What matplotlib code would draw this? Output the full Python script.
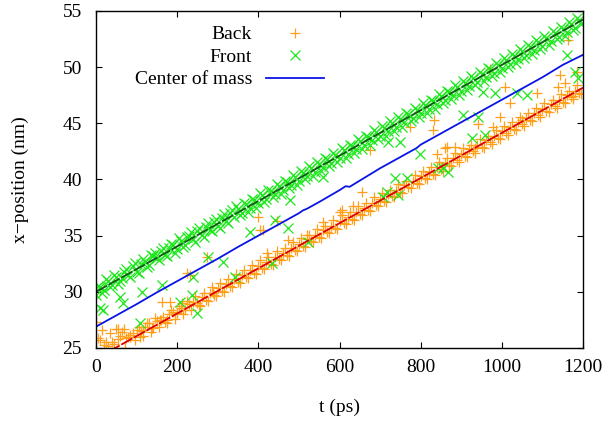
import matplotlib
matplotlib.use('Agg')
import matplotlib.pyplot as plt

plt.rcParams['font.family'] = ['Liberation Serif', 'DejaVu Serif']

# time grid of the regular samples (ps)
t_grid = [0, 10, 20, 30, 40, 50, 60, 70, 80, 90, 100, 110, 120, 130, 140, 150, 160, 170, 180, 190,
          200, 210, 220, 230, 240, 250, 260, 270, 280, 290, 300, 310, 320, 330, 340, 350, 360, 370, 380, 390,
          400, 410, 420, 430, 440, 450, 460, 470, 480, 490, 500, 510, 520, 530, 540, 550, 560, 570, 580, 590,
          600, 610, 620, 630, 640, 650, 660, 670, 680, 690, 700, 710, 720, 730, 740, 750, 760, 770, 780, 790,
          800, 810, 820, 830, 840, 850, 860, 870, 880, 890, 900, 910, 920, 930, 940, 950, 960, 970, 980, 990,
          1000, 1010, 1020, 1030, 1040, 1050, 1060, 1070, 1080, 1090, 1100, 1110, 1120, 1130, 1140, 1150, 1160, 1170, 1180, 1190]
t_mid = [5, 15, 25, 35, 45, 55, 65, 75, 85, 95, 105, 115, 125, 135, 145, 155, 165, 175, 185, 195,
         205, 215, 225, 235, 245, 255, 265, 275, 285, 295, 305, 315, 325, 335, 345, 355, 365, 375, 385, 395,
         405, 415, 425, 435, 445, 455, 465, 475, 485, 495, 505, 515, 525, 535, 545, 555, 565, 575, 585, 595,
         605, 615, 625, 635, 645, 655, 665, 675, 685, 695, 705, 715, 725, 735, 745, 755, 765, 775, 785, 795,
         805, 815, 825, 835, 845, 855, 865, 875, 885, 895, 905, 915, 925, 935, 945, 955, 965, 975, 985, 995,
         1005, 1015, 1025, 1035, 1045, 1055, 1065, 1075, 1085, 1095, 1105, 1115, 1125, 1135, 1145, 1155, 1165, 1175, 1185, 1195]

front_v = [29.7, 30.4, 30.2, 31.0, 30.6, 31.3, 31.0, 31.8, 31.5, 32.3, 31.8, 32.5, 32.7, 32.4, 33.2, 33.0, 33.6, 33.3, 33.9, 34.2,
           33.8, 34.5, 34.2, 35.0, 34.7, 35.4, 35.1, 35.8, 35.5, 36.2, 35.9, 36.6, 36.3, 37.0, 36.7, 37.4, 37.0, 37.8, 37.5, 38.2,
           37.9, 38.6, 38.3, 39.0, 38.7, 39.4, 39.1, 39.8, 39.5, 40.2, 39.9, 40.6, 40.3, 41.0, 40.7, 41.4, 41.1, 41.8, 41.5, 42.2,
           41.9, 42.6, 42.3, 43.0, 42.7, 43.4, 43.1, 43.8, 43.5, 44.2, 43.9, 44.6, 44.3, 45.0, 44.7, 45.4, 45.1, 45.8, 45.5, 46.2,
           45.9, 46.6, 46.3, 47.0, 46.7, 47.4, 47.1, 47.8, 47.5, 48.2, 47.9, 48.6, 48.3, 49.0, 48.7, 49.4, 49.1, 49.8, 49.5, 50.2,
           49.9, 50.6, 50.3, 51.0, 50.7, 51.4, 51.1, 51.8, 51.5, 52.2, 51.9, 52.6, 52.3, 53.0, 52.7, 53.4, 53.1, 53.8, 53.5, 54.2]
front_mid = [30.5, 29.9, 31.1, 30.4, 31.5, 30.7, 31.2, 32.0, 31.3, 32.6, 31.7, 32.9, 32.2, 33.3, 33.5, 32.8, 33.9, 33.2, 34.3, 33.5,
             34.8, 34.0, 34.9, 35.3, 34.4, 35.7, 34.9, 36.1, 35.4, 36.5, 35.7, 36.9, 36.1, 37.3, 37.6, 36.8, 37.9, 37.1, 38.3, 37.5,
             38.8, 38.0, 39.1, 38.4, 39.6, 38.7, 39.9, 39.2, 40.4, 39.5, 40.8, 40.0, 41.2, 40.3, 41.6, 40.8, 41.9, 41.2, 42.4, 41.6,
             42.8, 41.9, 43.1, 42.4, 43.6, 42.7, 43.9, 43.1, 44.4, 43.6, 44.8, 43.9, 45.2, 44.3, 45.6, 44.7, 45.9, 45.2, 46.4, 45.6,
             46.8, 45.9, 47.1, 46.3, 47.6, 46.8, 47.9, 47.2, 48.4, 47.5, 48.8, 48.0, 49.2, 48.4, 49.6, 48.8, 49.9, 49.2, 50.4, 49.6,
             50.8, 50.0, 51.2, 50.4, 51.6, 50.8, 52.0, 51.2, 52.4, 51.6, 52.8, 52.0, 53.2, 52.5, 53.6, 52.8, 54.0, 53.3, 54.4, 53.8]

back_v = [27.3, 25.7, 25.3, 25.2, 25.5, 26.7, 26.1, 26.7, 26.0, 26.3, 26.6, 26.5, 26.9, 27.2, 26.8, 27.4, 27.5, 27.3, 28.0, 28.2,
          28.1, 28.6, 28.4, 28.9, 29.1, 29.0, 29.5, 29.3, 29.9, 29.7, 30.3, 30.1, 30.7, 30.5, 31.1, 30.9, 31.5, 31.3, 31.9, 31.7,
          32.3, 32.1, 32.7, 32.5, 33.1, 32.9, 33.5, 33.3, 33.9, 33.7, 34.3, 34.1, 34.7, 34.5, 35.1, 34.9, 35.5, 35.3, 35.9, 35.7,
          36.3, 36.1, 36.7, 36.5, 37.1, 36.9, 37.5, 37.3, 37.9, 37.7, 38.3, 38.1, 38.7, 38.5, 39.1, 38.9, 39.5, 39.3, 39.9, 39.7,
          40.3, 40.1, 40.7, 40.5, 41.1, 40.9, 41.5, 41.3, 41.9, 41.7, 42.3, 42.1, 42.7, 42.5, 43.1, 42.9, 43.5, 43.3, 43.9, 43.7,
          44.3, 44.1, 44.7, 44.5, 45.1, 44.9, 45.5, 45.3, 45.9, 45.7, 46.3, 46.1, 46.7, 46.5, 47.1, 46.9, 47.5, 47.3, 47.9, 47.7]
back_mid = [25.9, 26.6, 25.5, 26.3, 25.4, 25.8, 26.4, 25.9, 26.2, 25.7, 26.9, 26.1, 27.2, 26.4, 27.7, 26.9, 27.8, 27.2, 28.4, 27.6,
            28.7, 28.0, 29.2, 28.4, 29.6, 28.8, 29.9, 29.2, 30.4, 29.6, 30.8, 30.0, 31.1, 30.4, 31.6, 30.8, 31.9, 31.2, 32.4, 31.6,
            32.8, 32.0, 33.1, 32.4, 33.6, 32.8, 33.9, 33.2, 34.4, 33.6, 34.8, 34.0, 35.1, 34.4, 35.6, 34.8, 35.9, 35.2, 36.4, 35.6,
            36.8, 36.0, 37.1, 36.4, 37.6, 36.8, 37.9, 37.2, 38.4, 37.6, 38.8, 38.0, 39.1, 38.4, 39.6, 38.8, 39.9, 39.2, 40.4, 39.6,
            40.8, 40.0, 41.1, 40.4, 41.6, 40.8, 41.9, 41.2, 42.4, 41.6, 42.8, 42.0, 43.1, 42.4, 43.6, 42.8, 43.9, 43.2, 44.4, 43.6,
            44.8, 44.0, 45.1, 44.4, 45.6, 44.8, 45.9, 45.2, 46.4, 45.6, 46.8, 46.0, 47.1, 46.4, 47.6, 46.8, 47.9, 47.2, 48.4, 47.6]

# scattered samples away from the trend
front_out_t = [17, 10, 59, 67, 108, 113, 163, 207, 236, 249, 239, 276, 313, 342, 379, 434, 441, 473, 478, 522, 559,
               707, 717, 737, 744, 766, 798, 719, 749, 843, 855, 867, 904, 926, 941, 958, 953, 983, 1037, 1062, 1160, 1180, 1188]
front_out_v = [28.4, 28.6, 29.5, 29.0, 27.2, 30.0, 30.6, 29.1, 29.7, 28.1, 31.3, 33.1, 32.7, 31.3, 35.3, 32.6, 36.4, 35.7, 38.2, 34.4, 40.2,
               38.4, 38.9, 40.1, 38.6, 40.1, 42.3, 43.3, 43.3, 41.0, 41.0, 40.7, 45.7, 43.7, 45.6, 44.0, 47.8, 47.7, 47.7, 47.5, 51.1, 49.6, 49.0]

back_out_t = [72, 55, 84, 108, 116, 138, 158, 163, 175, 182, 199, 212, 224, 232, 256, 273, 288, 404, 399, 411, 421, 446, 473,
              520, 559, 601, 606, 633, 655, 675, 774, 830, 832, 840, 860, 865, 885, 933, 941, 971, 978, 995, 1008, 1020,
              1050, 1087, 1138, 1143, 1156, 1163, 1175, 1185]
back_out_v = [25.0, 26.7, 26.0, 26.0, 26.6, 26.8, 27.5, 29.1, 27.5, 29.1, 28.1, 29.0, 31.7, 31.5, 28.7, 33.1, 29.9, 35.5, 36.7, 35.5, 33.5, 36.3, 34.6,
              35.1, 36.2, 37.1, 37.3, 37.6, 38.9, 42.6, 44.7, 44.4, 45.3, 42.3, 42.8, 42.9, 42.9, 42.8, 44.9, 49.8, 44.7, 45.6, 48.2, 46.8,
              45.3, 47.7, 48.2, 49.3, 48.6, 52.4, 47.4, 49.6]

com_t = [0, 50, 100, 150, 200, 250, 300, 350, 400, 450, 500, 510, 520, 550, 600, 615, 625, 650, 700, 750, 790, 800,
         850, 900, 950, 1000, 1050, 1100, 1150, 1200]
com_v = [26.9, 27.9, 28.9, 29.95, 30.95, 31.95, 32.95, 34.0, 35.0, 36.0, 37.0, 37.25, 37.4, 38.0, 39.05, 39.4, 39.35, 39.9,
         41.0, 42.0, 42.8, 43.1, 44.1, 45.1, 46.1, 47.1, 48.1, 49.1, 50.2, 51.1]

fit_t = [0, 1200]
fit_back = [24.05, 48.17]
fit_front = [30.0, 54.24]

fig = plt.figure(figsize=(6.1, 4.23), dpi=100)
ax = fig.add_axes([96 / 610, 1 - 348 / 423, 487 / 610, 337 / 423])

orange = '#ff9f1a'
green = '#1ee61e'

ax.plot(t_grid + t_mid + back_out_t, back_v + back_mid + back_out_v, linestyle='none', marker='+',
        ms=7.5, mew=0.9, color=orange, label='Back')
ax.plot(t_grid + t_mid + front_out_t, front_v + front_mid + front_out_v, linestyle='none', marker='x',
        ms=7, mew=0.9, color=green, label='Front')
ax.plot(com_t, com_v, color='#0a14e6', lw=1.3, label='Center of mass')
ax.plot(fit_t, fit_back, color='#dd0000', lw=1.3, dashes=(7, 1))
ax.plot(fit_t, fit_front, color='#0f5a0f', lw=1.3, dashes=(7, 1))

ax.set_xlim(0, 1200)
ax.set_ylim(25, 55)
ax.set_xticks([0, 200, 400, 600, 800, 1000, 1200])
ax.set_yticks([25, 30, 35, 40, 45, 50, 55])
ax.tick_params(direction='in', top=True, right=True, length=4, width=0.8, labelsize=14)
ax.tick_params(axis='y', pad=10)
ax.tick_params(axis='x', pad=8)
for s in ax.spines.values():
    s.set_linewidth(1.0)

ax.set_xlabel('t (ps)', fontsize=14, labelpad=16)
ax.set_ylabel('x\u2212position (nm)', fontsize=14, labelpad=24)

leg = ax.legend(loc='upper right', bbox_to_anchor=(0.488, 0.985), frameon=False, markerfirst=False,
                fontsize=14, handlelength=3.0, handletextpad=0.7, labelspacing=0.25, borderpad=0,
                numpoints=1)

fig.savefig('out.png', dpi=100)
